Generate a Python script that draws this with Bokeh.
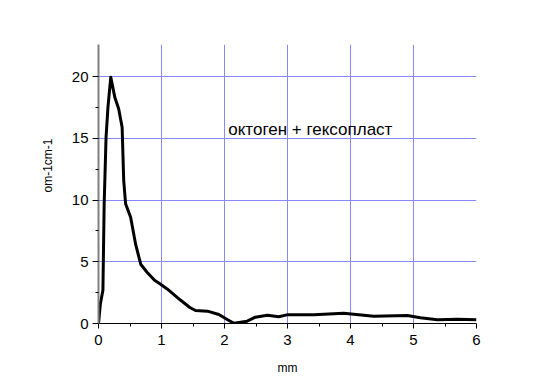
from bokeh.plotting import figure
from bokeh.models import FixedTicker, Label, Range1d, Title
from bokeh.embed import file_html
from bokeh.resources import INLINE

# Data
x_mm = [0, 0.03, 0.07, 0.09, 0.12, 0.15, 0.195, 0.26, 0.32, 0.375, 0.40, 0.43,
        0.51, 0.59, 0.67, 0.77, 0.89, 0.98, 1.09, 1.30, 1.45, 1.54, 1.73, 1.91,
        2.05, 2.15, 2.36, 2.49, 2.68, 2.86, 2.99, 3.42, 3.89, 4.37, 4.90, 5.11,
        5.38, 5.70, 6.0]
y_val = [0, 1.6, 2.7, 9.7, 15.1, 17.5, 19.95, 18.3, 17.4, 15.9, 11.6, 9.7,
         8.6, 6.4, 4.8, 4.15, 3.5, 3.2, 2.8, 1.9, 1.3, 1.05, 1.0, 0.73,
         0.3, 0.02, 0.19, 0.51, 0.67, 0.55, 0.70, 0.70, 0.83, 0.59, 0.65, 0.46,
         0.30, 0.35, 0.30]

x_ticks = [0, 1, 2, 3, 4, 5, 6]
x_minor = [0.5, 1.5, 2.5, 3.5, 4.5, 5.5]
y_ticks = [0, 5, 10, 15, 20]
y_minor = [2.5, 7.5, 12.5, 17.5]
x_grid = [1, 2, 3, 4, 5]
y_grid = [5, 10, 15, 20]

annotation = "октоген + гексопласт"
x_label = "mm"
y_label = "om-1cm-1"

FONT = "Liberation Sans"

p = figure(width=545, height=381, output_backend="svg", toolbar_location=None,
           x_range=Range1d(0, 6), y_range=Range1d(0, 22.6),
           min_border_left=98, min_border_right=69, min_border_top=44,
           min_border_bottom=58)
p.outline_line_color = None
p.background_fill_color = "white"
p.border_fill_color = "white"

p.line(x_mm, y_val, line_color="black", line_width=3, line_join="round")

# grids
p.xgrid.ticker = FixedTicker(ticks=x_grid)
p.ygrid.ticker = FixedTicker(ticks=y_grid)
for g in (p.xgrid, p.ygrid):
    g.grid_line_color = "#8888ff"
    g.grid_line_width = 1

# axes
p.xaxis.ticker = FixedTicker(ticks=x_ticks, minor_ticks=x_minor)
p.yaxis.ticker = FixedTicker(ticks=y_ticks, minor_ticks=y_minor)
for ax in (p.xaxis, p.yaxis):
    ax.major_tick_in = 0
    ax.minor_tick_in = 0
    ax.major_tick_line_color = "black"
    ax.minor_tick_line_color = "black"
    ax.major_label_text_font = FONT
    ax.major_label_text_font_size = "15px"
    ax.major_label_text_color = "black"
    ax.axis_label_text_font = FONT
    ax.axis_label_text_font_size = "12px"
    ax.axis_label_text_font_style = "normal"
    ax.axis_label_text_color = "black"

p.xaxis.axis_line_color = "black"
p.xaxis.major_tick_out = 5
p.xaxis.minor_tick_out = 3
p.xaxis.major_label_standoff = 6
p.xaxis.axis_label = x_label
p.xaxis.axis_label_standoff = 13

p.yaxis.axis_line_color = "#808080"
p.yaxis.axis_line_width = 2
p.yaxis.major_tick_out = 6
p.yaxis.minor_tick_out = 3
p.yaxis.major_label_standoff = 4

# y-axis title as a left-side title, set a little above the frame centre
p.add_layout(Title(text=y_label, align="left", offset=131, standoff=27,
                   text_font=FONT, text_font_size="12px",
                   text_font_style="normal", text_color="black"), "left")

p.add_layout(Label(x=2.06, y=15.7, text=annotation, text_font=FONT,
                   text_font_size="17px", text_color="black",
                   text_baseline="alphabetic"))

open("out.html", "w").write(file_html(p, INLINE))
